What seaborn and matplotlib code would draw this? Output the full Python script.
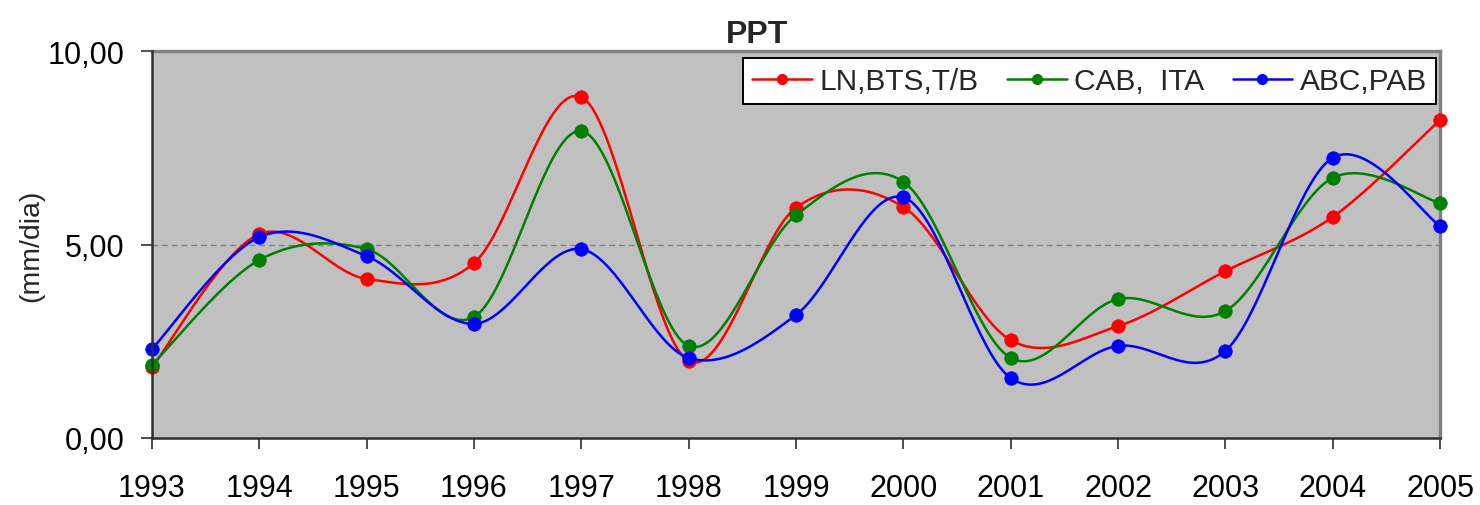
import numpy as np
import pandas as pd
import matplotlib
matplotlib.use("Agg")
import matplotlib.pyplot as plt
from matplotlib.lines import Line2D
from matplotlib.ticker import FuncFormatter
import seaborn as sns

# Annual mean precipitation (mm/dia) per station group
years = [1993, 1994, 1995, 1996, 1997, 1998, 1999, 2000, 2001, 2002, 2003, 2004, 2005]
ln_bts_tb = [1.83, 5.27, 4.11, 4.52, 8.81, 1.99, 5.95, 5.97, 2.53, 2.89, 4.31, 5.71, 8.22]
cab_ita = [1.89, 4.60, 4.88, 3.13, 7.93, 2.38, 5.76, 6.62, 2.07, 3.59, 3.28, 6.72, 6.07]
abc_pab = [2.30, 5.19, 4.70, 2.95, 4.88, 2.07, 3.18, 6.22, 1.55, 2.38, 2.25, 7.24, 5.48]

series_names = ["LN,BTS,T/B", "CAB,  ITA", "ABC,PAB"]
series_values = [ln_bts_tb, cab_ita, abc_pab]
series_colors = ["#FF0000", "#008000", "#0000FF"]


def smooth_curve(x, y, n=40):
    """Piecewise cubic Bezier through the points (Catmull-Rom style tangents)."""
    p = np.column_stack([x, y]).astype(float)
    ext = np.vstack([p[0], p, p[-1]])
    t = np.linspace(0, 1, n)[:, None]
    out = []
    for i in range(len(p) - 1):
        p0, p1, p2, p3 = ext[i], ext[i + 1], ext[i + 2], ext[i + 3]
        c1 = p1 + (p2 - p0) / 6.0
        c2 = p2 - (p3 - p1) / 6.0
        seg = ((1 - t) ** 3) * p1 + 3 * ((1 - t) ** 2) * t * c1 + 3 * (1 - t) * t ** 2 * c2 + t ** 3 * p2
        out.append(seg if i == 0 else seg[1:])
    seg = np.vstack(out)
    return seg[:, 0], seg[:, 1]


sns.set_theme(style="white")
plt.rcParams["font.family"] = ["Liberation Sans", "DejaVu Sans"]

fig = plt.figure(figsize=(14.8, 5.06), dpi=100)
ax = fig.add_axes([152 / 1480, 67 / 506, 1288 / 1480, 387 / 506])
ax.set_facecolor("#C0C0C0")

# reference line at 5 mm/dia
ax.axhline(5.0, color="#7F7F7F", lw=1.0, ls=(0, (4, 3)), zorder=1)

for name, vals, col in zip(series_names, series_values, series_colors):
    sx, sy = smooth_curve(years, vals)
    curve = pd.DataFrame({"x": sx, "y": sy})
    sns.lineplot(data=curve, x="x", y="y", sort=False, color=col, lw=1.8,
                 ax=ax, zorder=3, clip_on=False)
    pts = pd.DataFrame({"x": years, "y": vals})
    sns.scatterplot(data=pts, x="x", y="y", color=col, s=95, marker="o",
                    edgecolor=col, linewidth=0.5, ax=ax, zorder=4, clip_on=False)

ax.set_xlim(1993, 2005)
ax.set_ylim(0, 10)
ax.set_xticks(years)
ax.set_yticks([0, 5, 10])
ax.yaxis.set_major_formatter(FuncFormatter(lambda v, _: f"{v:.2f}".replace(".", ",")))
ax.set_xlabel("")
ax.set_ylabel("")

ax.tick_params(axis="both", which="major", direction="out", length=8, width=1.2,
               color="#303030", labelsize=22, labelcolor="black")
ax.tick_params(axis="y", pad=12)
ax.tick_params(axis="x", pad=17)
ax.tick_params(bottom=True, left=True)

for side in ["top", "right"]:
    ax.spines[side].set_color("#808080")
    ax.spines[side].set_linewidth(2.4)
for side in ["left", "bottom"]:
    ax.spines[side].set_color("#303030")
    ax.spines[side].set_linewidth(1.8)
    ax.spines[side].set_zorder(5)

fig.text(757 / 1480, 1 - 43 / 506, "PPT", ha="center", va="baseline",
         fontsize=23, fontweight="bold")
fig.text(31 / 1480, 1 - 246 / 506, "(mm/dia)", ha="center", va="center",
         rotation=90, fontsize=20.5)

handles = [Line2D([0], [0], color=c, lw=1.8, marker="o", markersize=7,
                  markerfacecolor=c, markeredgecolor=c) for c in series_colors]
leg = ax.legend(handles, series_names, ncol=3, loc="upper right",
                bbox_to_anchor=(1436 / 1480, 1 - 59 / 506),
                bbox_transform=fig.transFigure, fontsize=21.5,
                frameon=True, fancybox=False, framealpha=1, edgecolor="black",
                handlelength=2.0, handletextpad=0.25, columnspacing=0.95,
                borderpad=0.3, borderaxespad=0)
leg.get_frame().set_linewidth(1.4)
leg.set_zorder(10)

fig.savefig("out.png", dpi=100, facecolor="white")
